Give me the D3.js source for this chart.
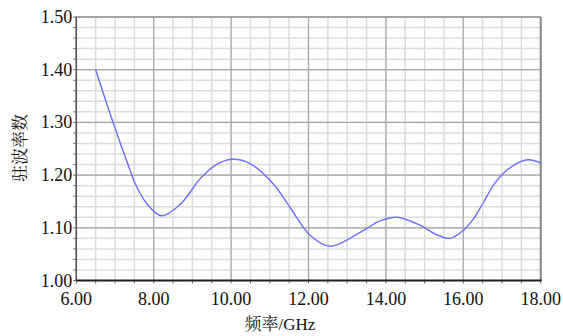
<!DOCTYPE html>
<html><head><meta charset="utf-8">
<script src="https://cdn.jsdelivr.net/npm/d3@7"></script>
<style>body{margin:0;background:#fff}svg{display:block}</style>
</head><body>
<svg id="c" width="563" height="336"></svg>
<script>
const freq = [6.5, 6.96, 7.39, 7.52, 7.82, 8.2, 8.68, 9.2, 9.6, 10.02, 10.49, 11.08, 11.52, 12.04, 12.56, 13.07, 13.51, 13.85, 14.28, 14.88, 15.31, 15.66, 16.0, 16.26, 16.52, 16.77, 17.03, 17.38, 17.68, 18.0];
const vswr = [1.40, 1.298, 1.209, 1.184, 1.146, 1.123, 1.144, 1.193, 1.219, 1.230, 1.222, 1.184, 1.139, 1.086, 1.065, 1.080, 1.099, 1.113, 1.120, 1.105, 1.087, 1.080, 1.095, 1.117, 1.148, 1.180, 1.203, 1.222, 1.229, 1.223];
const xTicks = [6, 8, 10, 12, 14, 16, 18];
const yTicks = [1.0, 1.1, 1.2, 1.3, 1.4, 1.5];
const xLabel = "频率/GHz";
const yLabel = "驻波率数";

const L = 76.3, R = 540.7, T = 17, B = 280.5;
const svg = d3.select("#c");
const x = d3.scaleLinear().domain([6, 18]).range([L, R]);
const y = d3.scaleLinear().domain([1.0, 1.5]).range([B, T]);

const xMinor = d3.range(6, 18.001, 0.5);
const yMinor = d3.range(0, 26).map(i => 1.0 + i * 0.02);

const g = svg.append("g");
g.selectAll(".vx").data(xMinor).enter().append("line")
  .attr("x1", d => x(d)).attr("x2", d => x(d)).attr("y1", T).attr("y2", B)
  .attr("stroke", "#dcdcdc").attr("stroke-width", 1.5);
g.selectAll(".hy").data(yMinor).enter().append("line")
  .attr("y1", d => y(d)).attr("y2", d => y(d)).attr("x1", L).attr("x2", R)
  .attr("stroke", "#dcdcdc").attr("stroke-width", 1.5);
g.selectAll(".vX").data(xTicks).enter().append("line")
  .attr("x1", d => x(d)).attr("x2", d => x(d)).attr("y1", T).attr("y2", B)
  .attr("stroke", "#a8a8a8").attr("stroke-width", 1.2);
g.selectAll(".hY").data(yTicks).enter().append("line")
  .attr("y1", d => y(d)).attr("y2", d => y(d)).attr("x1", L).attr("x2", R)
  .attr("stroke", "#a8a8a8").attr("stroke-width", 1.2);
svg.append("line").attr("x1", L).attr("x2", R).attr("y1", T).attr("y2", T).attr("stroke", "#9a9a9a").attr("stroke-width", 1.5);
svg.append("line").attr("x1", R).attr("x2", R).attr("y1", T).attr("y2", B).attr("stroke", "#8a8a8a").attr("stroke-width", 2);

const line = d3.line().x((d, i) => x(freq[i])).y((d, i) => y(vswr[i])).curve(d3.curveCatmullRom.alpha(0.5));
svg.append("path").datum(vswr).attr("d", line).attr("fill", "none")
  .attr("stroke", "#6f6fff").attr("stroke-width", 1.4);

svg.append("line").attr("x1", L).attr("x2", L).attr("y1", T).attr("y2", B).attr("stroke", "#555").attr("stroke-width", 1.5);
svg.selectAll(".ly").data(yMinor).enter().append("line")
  .attr("x1", L - 3).attr("x2", L).attr("y1", d => y(d)).attr("y2", d => y(d))
  .attr("stroke", "#666").attr("stroke-width", 1);
svg.selectAll(".bx").data(xMinor).enter().append("line")
  .attr("x1", d => x(d)).attr("x2", d => x(d)).attr("y1", B).attr("y2", B + 3)
  .attr("stroke", "#666").attr("stroke-width", 1);
svg.append("line").attr("x1", L).attr("x2", R + 1).attr("y1", B).attr("y2", B).attr("stroke", "#222").attr("stroke-width", 2);

const font = "'Liberation Serif','Times New Roman',serif";
svg.selectAll(".yt").data(yTicks).enter().append("text")
  .attr("x", L - 4).attr("y", d => y(d) + 6).attr("text-anchor", "end")
  .attr("font-family", font).attr("font-size", 18).attr("fill", "#111")
  .text(d => d3.format(".2f")(d));
svg.selectAll(".xt").data(xTicks).enter().append("text")
  .attr("x", d => x(d)).attr("y", 305).attr("text-anchor", "middle")
  .attr("font-family", font).attr("font-size", 18).attr("fill", "#111")
  .text(d => d3.format(".2f")(d));
svg.append("text").attr("x", 280).attr("y", 330).attr("text-anchor", "middle")
  .attr("font-family", "'Liberation Serif','Noto Serif CJK SC','Noto Sans CJK SC',serif").attr("font-size", 17).attr("fill", "#111")
  .text(xLabel);
svg.append("text").attr("transform", "translate(26,148) rotate(-90)").attr("text-anchor", "middle")
  .attr("font-family", "'Noto Serif CJK SC','Noto Sans CJK SC',serif").attr("font-size", 17).attr("fill", "#111")
  .text(yLabel);
</script>
</body></html>
